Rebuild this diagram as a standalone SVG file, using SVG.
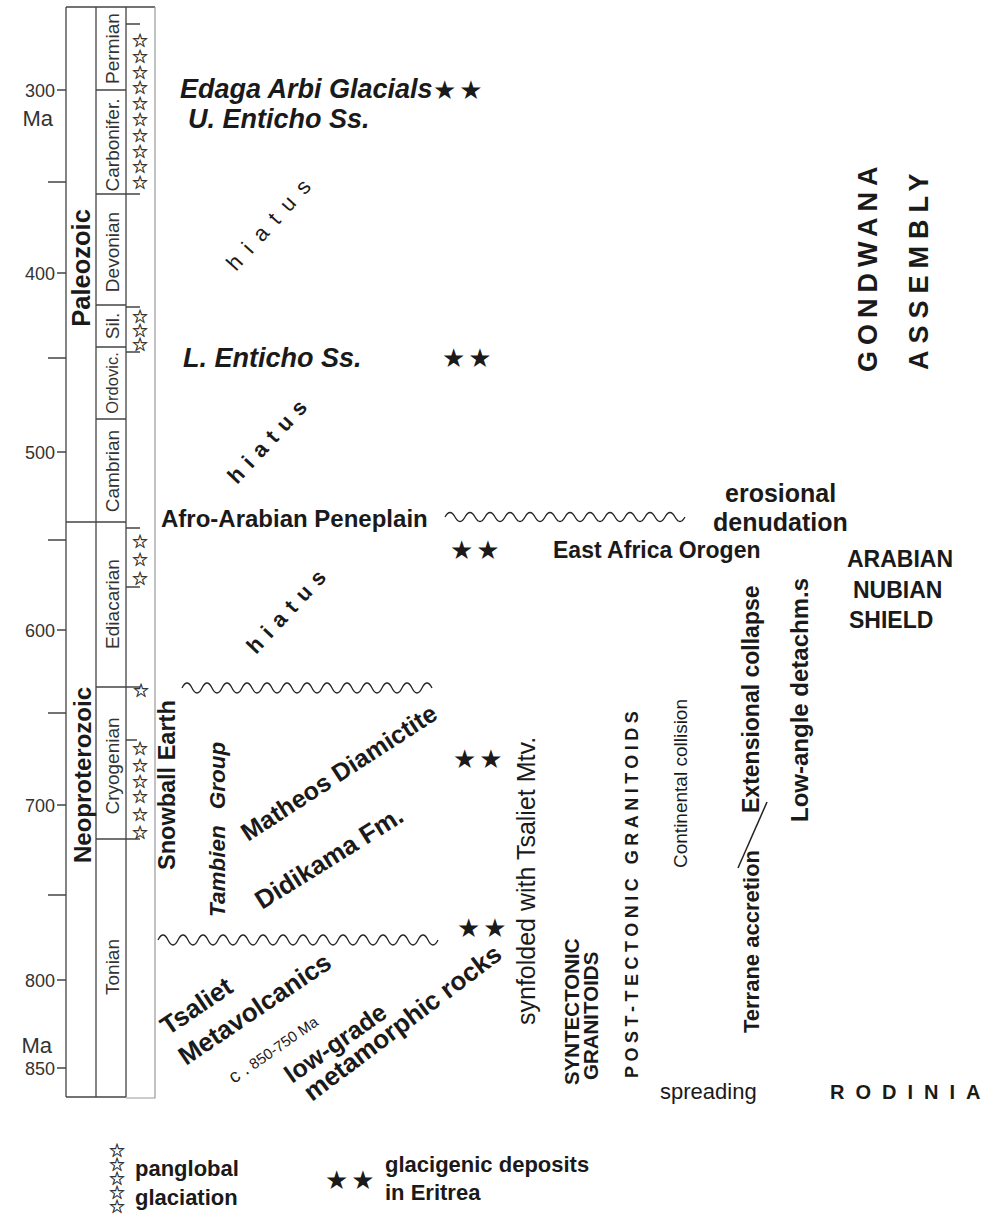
<svg xmlns="http://www.w3.org/2000/svg" width="994" height="1228" viewBox="0 0 994 1228">
<style>
text{font-family:"Liberation Sans",Arial,Helvetica,sans-serif;fill:#1a1a1a}
.b{font-weight:bold}
.bi{font-weight:bold;font-style:italic}
.per{font-size:19px;fill:#333}
.era{font-size:24px;font-weight:bold}
.tk{font-size:18px;fill:#333}
.ma{font-size:22px;fill:#333}
.st{font-family:"DejaVu Sans",sans-serif}
.hs{font-size:19px;fill:#222;stroke:#222;stroke-width:0.35}
.bs{font-size:26px;letter-spacing:3px}
.tb{stroke:#444;stroke-width:1.3;fill:none}
.wave{fill:none;stroke:#222;stroke-width:1.3}
</style>
<rect width="994" height="1228" fill="#fff"/>

<g id="timescale">
<path class="tb" d="M66 7H155M66 7V1097M96 7V1097M126 7V1097M66 1097H126M66 522H126M96 90H126M96 194H140M96 305H126M96 347H126M96 419H126M96 687H140M96 839H140M126 24H140M126 307H140M126 352H140M126 528H140M126 587H140M126 740H137"/>
<path d="M155 7V1098H126" stroke="#999" stroke-width="1.2" fill="none"/>
<path class="tb" d="M57 90H66M48 182H66M57 273H66M48 358H66M57 452H66M48 540H66M57 630H66M48 713H66M57 805H66M48 895H66M57 980H66M57 1068H66"/>
<text class="tk" x="55" y="96.5" text-anchor="end">300</text>
<text class="ma" x="53" y="126" text-anchor="end">Ma</text>
<text class="tk" x="55" y="279.5" text-anchor="end">400</text>
<text class="tk" x="55" y="458.5" text-anchor="end">500</text>
<text class="tk" x="55" y="636.5" text-anchor="end">600</text>
<text class="tk" x="55" y="811.5" text-anchor="end">700</text>
<text class="tk" x="55" y="986.5" text-anchor="end">800</text>
<text class="ma" x="52" y="1053" text-anchor="end">Ma</text>
<text class="tk" x="55" y="1074.5" text-anchor="end">850</text>
<text class="era" style="font-size:25.5px" transform="translate(90,268) rotate(-90)" text-anchor="middle">Paleozoic</text>
<text class="era" transform="translate(91,775) rotate(-90)" text-anchor="middle">Neoproterozoic</text>
<text class="per" transform="translate(119,48.5) rotate(-90)" text-anchor="middle">Permian</text>
<text class="per" transform="translate(119,145) rotate(-90)" text-anchor="middle">Carbonifer.</text>
<text class="per" transform="translate(119,252) rotate(-90)" text-anchor="middle">Devonian</text>
<text class="per" transform="translate(119,326) rotate(-90)" text-anchor="middle">Sil.</text>
<text class="per" style="font-size:16.5px" transform="translate(118,383) rotate(-90)" text-anchor="middle">Ordovic.</text>
<text class="per" transform="translate(119,471) rotate(-90)" text-anchor="middle">Cambrian</text>
<text class="per" transform="translate(119,604) rotate(-90)" text-anchor="middle">Ediacarian</text>
<text class="per" transform="translate(119,766) rotate(-90)" text-anchor="middle">Cryogenian</text>
<text class="per" transform="translate(119,967) rotate(-90)" text-anchor="middle">Tonian</text>
<text class="st hs" text-anchor="middle" x="140 140 140 140 140 140 140 140 140 140" y="47 62.8 78.6 94.4 110.2 126 141.8 157.6 173.4 189.2">☆☆☆☆☆☆☆☆☆☆</text>
<text class="st hs" text-anchor="middle" x="140 140 140" y="323 337 351">☆☆☆</text>
<text class="st hs" text-anchor="middle" x="140 140 140" y="548 566 585">☆☆☆</text>
<text class="st hs" text-anchor="middle" x="141" y="697">☆</text>
<text class="st hs" text-anchor="middle" x="140 140 140 140 140 140" y="755 772 788 803 820.5 839">☆☆☆☆☆☆</text>
</g>

<g id="connectors">
<path class="wave" stroke-width="2" d="M445 517q5 -9 10 0t10 0t10 0t10 0t10 0t10 0t10 0t10 0t10 0t10 0t10 0t10 0t10 0t10 0t10 0t10 0t10 0t10 0t10 0t10 0t10 0t10 0t10 0t10 0"/>
<path class="wave" d="M182 688q5 -10 10 0t10 0t10 0t10 0t10 0t10 0t10 0t10 0t10 0t10 0t10 0t10 0t10 0t10 0t10 0t10 0t10 0t10 0t10 0t10 0t10 0t10 0t10 0t10 0t10 0"/>
<path class="wave" d="M158 940q5 -10 10 0t10 0t10 0t10 0t10 0t10 0t10 0t10 0t10 0t10 0t10 0t10 0t10 0t10 0t10 0t10 0t10 0t10 0t10 0t10 0t10 0t10 0t10 0t10 0t10 0t10 0t10 0t10 0"/>
<path d="M738 868L767 802" stroke="#222" stroke-width="1.5"/>
</g>

<g id="paleozoic-units">
<text class="bi" font-size="27" x="180" y="98">Edaga Arbi Glacials</text>
<text class="st bs" x="433" y="99">★★</text>
<text class="bi" font-size="27" x="188" y="128">U. Enticho Ss.</text>
<text font-size="22" letter-spacing="11" fill="#333" transform="translate(236,272) rotate(-48)">hiatus</text>
<text class="bi" font-size="27" x="183" y="367">L. Enticho Ss.</text>
<text class="st bs" x="442" y="367">★★</text>
<text class="b" font-size="22" letter-spacing="8" transform="translate(237,485) rotate(-47)">hiatus</text>
</g>

<g id="peneplain">
<text class="b" font-size="24" x="161" y="527">Afro-Arabian Peneplain</text>
<text class="b" font-size="25" x="725" y="502">erosional</text>
<text class="b" font-size="25" x="713" y="531">denudation</text>
<text class="st bs" x="450" y="559">★★</text>
<text class="b" font-size="23" x="553" y="558">East Africa Orogen</text>
</g>

<g id="ans">
<text class="b" font-size="23" x="847" y="567">ARABIAN</text>
<text class="b" font-size="23" x="853" y="598">NUBIAN</text>
<text class="b" font-size="23" x="849" y="628">SHIELD</text>
</g>

<g id="gondwana">
<text class="b" font-size="27" letter-spacing="6" transform="translate(877,372) rotate(-90)">GONDWANA</text>
<text class="b" font-size="27" letter-spacing="7" transform="translate(928,370) rotate(-90)">ASSEMBLY</text>
</g>

<g id="tambien">
<text class="b" font-size="22" letter-spacing="8" transform="translate(256,655) rotate(-47)">hiatus</text>
<text class="b" font-size="23.5" transform="translate(175,870) rotate(-90)">Snowball Earth</text>
<text class="bi" font-size="22.5" transform="translate(225,917) rotate(-90)">Tambien<tspan dx="16">Group</tspan></text>
<text class="b" font-size="25" transform="translate(248,842) rotate(-33)">Matheos Diamictite</text>
<text class="b" font-size="26" transform="translate(262,910) rotate(-32)">Didikama Fm.</text>
<text class="st bs" x="453" y="768">★★</text>
<text class="st bs" x="457" y="937">★★</text>
</g>

<g id="tsaliet">
<text class="b" font-size="26" transform="translate(168,1036) rotate(-34)">Tsaliet</text>
<text class="b" font-size="26" transform="translate(186,1066) rotate(-34)">Metavolcanics</text>
<text transform="translate(234,1084) rotate(-35)"><tspan font-size="19">c .</tspan><tspan font-size="15"> 850-750 Ma</tspan></text>
<text class="b" font-size="25" transform="translate(292,1084) rotate(-35)">low-grade</text>
<text class="b" font-size="26" transform="translate(312,1102) rotate(-37)">metamorphic rocks</text>
<text font-size="25" transform="translate(535,1025) rotate(-90)">synfolded with Tsaliet Mtv.</text>
</g>

<g id="granitoids">
<text class="b" font-size="20.5" transform="translate(579,1085) rotate(-90)">SYNTECTONIC</text>
<text class="b" font-size="20.5" transform="translate(598,1080) rotate(-90)">GRANITOIDS</text>
<text class="b" font-size="18" letter-spacing="4.5" transform="translate(638,1078) rotate(-90)">POST-TECTONIC GRANITOIDS</text>
</g>

<g id="tectonics">
<text font-size="19" transform="translate(687,868) rotate(-90)">Continental collision</text>
<text class="b" font-size="23" transform="translate(759,813) rotate(-90)">Extensional collapse</text>
<text class="b" font-size="22" transform="translate(759,1033) rotate(-90)">Terrane accretion</text>
<text class="b" font-size="24" transform="translate(808,822) rotate(-90)">Low-angle detachm.s</text>
<text font-size="22" x="660" y="1099">spreading</text>
<text class="b" font-size="20" letter-spacing="11" x="830" y="1099">RODINIA</text>
</g>

<g id="legend">
<text class="st hs" text-anchor="middle" x="117 117 117 117 117" y="1157 1171 1185 1199 1213">☆☆☆☆☆</text>
<text class="b" font-size="22" x="135" y="1176">panglobal</text>
<text class="b" font-size="22" x="135" y="1205">glaciation</text>
<text class="st bs" x="325" y="1189">★★</text>
<text class="b" font-size="22" x="385" y="1172">glacigenic deposits</text>
<text class="b" font-size="22" x="385" y="1200">in Eritrea</text>
</g>
</svg>
